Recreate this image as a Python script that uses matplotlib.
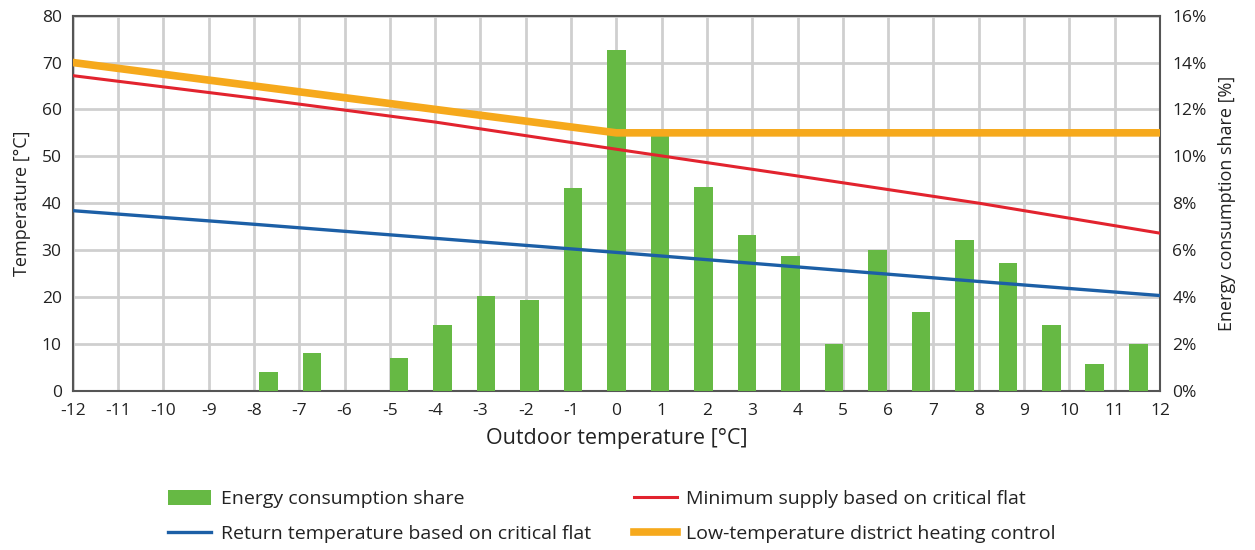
import numpy as np
import matplotlib.pyplot as plt

plt.rcParams['font.family'] = ['Open Sans', 'DejaVu Sans']
plt.rcParams['axes.unicode_minus'] = False

# --- data ---
outdoor = list(range(-12, 13))
share_pct = [0, 0, 0, 0, 0.8, 1.6, 0, 1.4, 2.8, 4.05, 3.85, 8.65, 14.55,
             10.9, 8.7, 6.65, 5.75, 2.0, 6.0, 3.35, 6.45, 5.45, 2.8, 1.15, 2.0]

red_x = [-12, -8, -4, 0, 4, 8, 12]
red_t = [67.2, 62.4, 57.3, 51.5, 45.8, 40.0, 33.6]

blue_x = [-12, -8, -4, 0, 4, 8, 12]
blue_t = [38.4, 35.5, 32.5, 29.5, 26.4, 23.3, 20.3]

orange_x = [-12, 0, 12]
orange_t = [70.0, 55.0, 55.0]

GREEN = '#66b944'
RED = '#e2232e'
BLUE = '#1c5fa6'
ORANGE = '#f6a91c'
GRID = '#cfcfcf'
SPINE = '#555555'
TXT = '#222222'

fig = plt.figure(figsize=(12.55, 5.5), dpi=100)
ax = fig.add_axes([0.058, 0.2896, 0.8663, 0.682])

# background axis: grid + left scale
ax.set_xlim(-12, 12)
ax.set_ylim(0, 80)
ax.set_xticks(outdoor)
ax.set_yticks(np.arange(0, 81, 10))
ax.grid(True, color=GRID, linewidth=2)
ax.set_axisbelow(True)
ax.tick_params(length=0, labelsize=12.5, colors=TXT)
ax.tick_params(axis='x', pad=9)
ax.tick_params(axis='y', pad=8)
ax.set_xlabel('Outdoor temperature [°C]', fontsize=15.5, color=TXT, labelpad=6)
ax.set_ylabel('Temperature [°C]', fontsize=13, color=TXT, labelpad=8)
for s in ax.spines.values():
    s.set_color(SPINE)
    s.set_linewidth(1.5)

# bars on the right (%) scale, categorical bins spread over the width
ax2 = ax.twinx()
n = len(outdoor)
bin_w = 24 / n
bar_pos = -12 + (np.arange(n) + 0.5) * bin_w
bars = ax2.bar(bar_pos, share_pct, width=0.41, color=GREEN,
               label='Energy consumption share')
ax2.set_ylim(0, 16)
ax2.set_yticks(np.arange(0, 17, 2))
ax2.set_yticklabels([f'{v}%' for v in range(0, 17, 2)])
ax2.tick_params(length=0, labelsize=12.5, colors=TXT, pad=9)
ax2.set_ylabel('Energy consumption share [%]', fontsize=13, color=TXT, labelpad=8)
for s in ax2.spines.values():
    s.set_visible(False)

# lines on top
ax3 = ax.twinx()
ax3.set_ylim(0, 80)
ax3.axis('off')
l_red, = ax3.plot(red_x, red_t, color=RED, linewidth=2.2,
                  label='Minimum supply based on critical flat')
l_blue, = ax3.plot(blue_x, blue_t, color=BLUE, linewidth=2.4,
                   label='Return temperature based on critical flat')
l_orange, = ax3.plot(orange_x, orange_t, color=ORANGE, linewidth=5.5,
                     solid_joinstyle='round',
                     label='Low-temperature district heating control')
ax3.set_xlim(-12, 12)

fig.legend(handles=[bars, l_blue, l_red, l_orange], ncol=2,
           loc='upper left', bbox_to_anchor=(0.1265, 0.127), frameon=False,
           fontsize=14, handlelength=2.2, handleheight=0.8,
           columnspacing=2.2, labelspacing=0.85, handletextpad=0.5,
           borderpad=0, labelcolor=TXT)

fig.savefig('out.png', dpi=100)
